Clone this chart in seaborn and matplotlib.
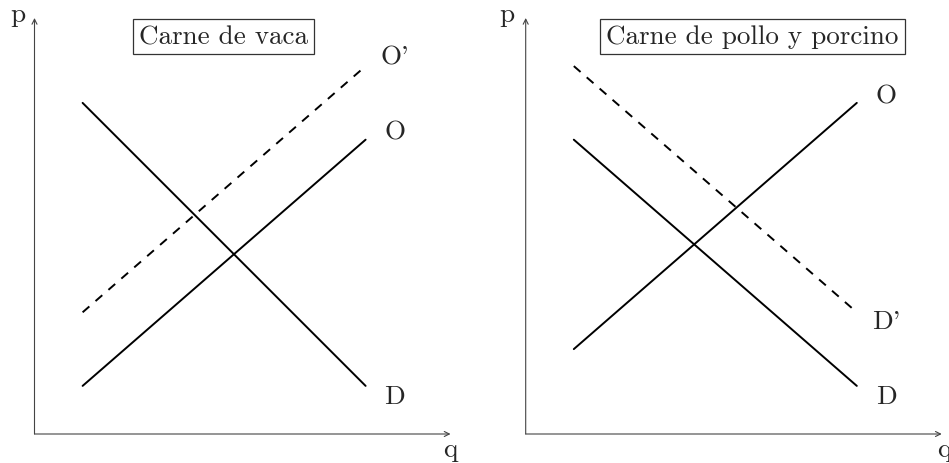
import matplotlib
matplotlib.use("Agg")
import matplotlib.pyplot as plt
import seaborn as sns
import pandas as pd

# ---- data (in chart units; origin at the axes corner) ----
q_ends = [1.7, 11.7]

left_title = "Carne de vaca"
left_D = [11.7, 1.7]
left_O = [1.7, 10.4]
left_O2 = [4.3, 13.0]          # O' (dashed)
left_labels = ["O'", "O", "D"]
left_label_y = [13.35, 10.67, 1.34]

right_title = "Carne de pollo y porcino"
right_D = [10.4, 1.7]
right_O = [3.0, 11.7]
right_D2 = [13.0, 4.3]          # D' (dashed)
right_labels = ["O", "D'", "D"]
right_label_y = [11.94, 3.99, 1.34]

axis_max = 14.7
label_x = 12.73

sns.set_style("white")
plt.rcParams["font.family"] = ["cmr10", "DejaVu Serif"]
plt.rcParams["mathtext.fontset"] = "cm"
plt.rcParams["axes.unicode_minus"] = False

W, H = 949, 464
S = 28.3  # px per unit
FS = 19.5
fig = plt.figure(figsize=(W / 100, H / 100), dpi=100)


def make_axes(x0_px, origin_px, width_px):
    ax = fig.add_axes([x0_px / W, 0, width_px / W, 1])
    ox, oy = origin_px
    ax.set_xlim((x0_px - ox) / S, (x0_px + width_px - ox) / S)
    ax.set_ylim((oy - H) / S, oy / S)
    ax.set_axis_off()
    return ax


def draw_panel(ax, title, title_x, solids, dashed, labels, label_y, p_x, q_x):
    # axes arrows
    arrow = dict(arrowstyle="->", color="#444444", lw=0.8,
                 shrinkA=0, shrinkB=0, mutation_scale=9)
    ax.annotate("", xy=(0, axis_max), xytext=(0, 0), arrowprops=arrow)
    ax.annotate("", xy=(axis_max, 0), xytext=(0, 0), arrowprops=arrow)
    ax.text(p_x, 14.84, "p", fontsize=FS, ha="center", va="center")
    ax.text(q_x, -0.53, "q", fontsize=FS, ha="center", va="center")

    for yv in solids:
        df = pd.DataFrame({"q": q_ends, "p": yv})
        sns.lineplot(data=df, x="q", y="p", ax=ax, color="black", lw=1.4,
                     legend=False, sort=False)
    df = pd.DataFrame({"q": q_ends, "p": dashed})
    sns.lineplot(data=df, x="q", y="p", ax=ax, color="black", lw=1.4,
                 linestyle=(0, (4.6, 4.2)), legend=False, sort=False)

    for lab, ly in zip(labels, label_y):
        ax.text(label_x, ly, lab, fontsize=FS, ha="center", va="center")

    ax.text(title_x, 14.05, title, fontsize=FS, ha="center", va="center",
            bbox=dict(boxstyle="square,pad=0.22", fc="white", ec="#333333", lw=0.9))
    ax.set_xlabel("")
    ax.set_ylabel("")


axL = make_axes(0, (34.5, 435), 474)
draw_panel(axL, left_title, 6.68, [left_D, left_O], left_O2,
           left_labels, left_label_y, -0.58, 14.68)

axR = make_axes(474, (525.7, 435), 475)
draw_panel(axR, right_title, 8.01, [right_D, right_O], right_D2,
           right_labels, right_label_y, -0.66, 14.78)

fig.savefig("out.png", dpi=100)
